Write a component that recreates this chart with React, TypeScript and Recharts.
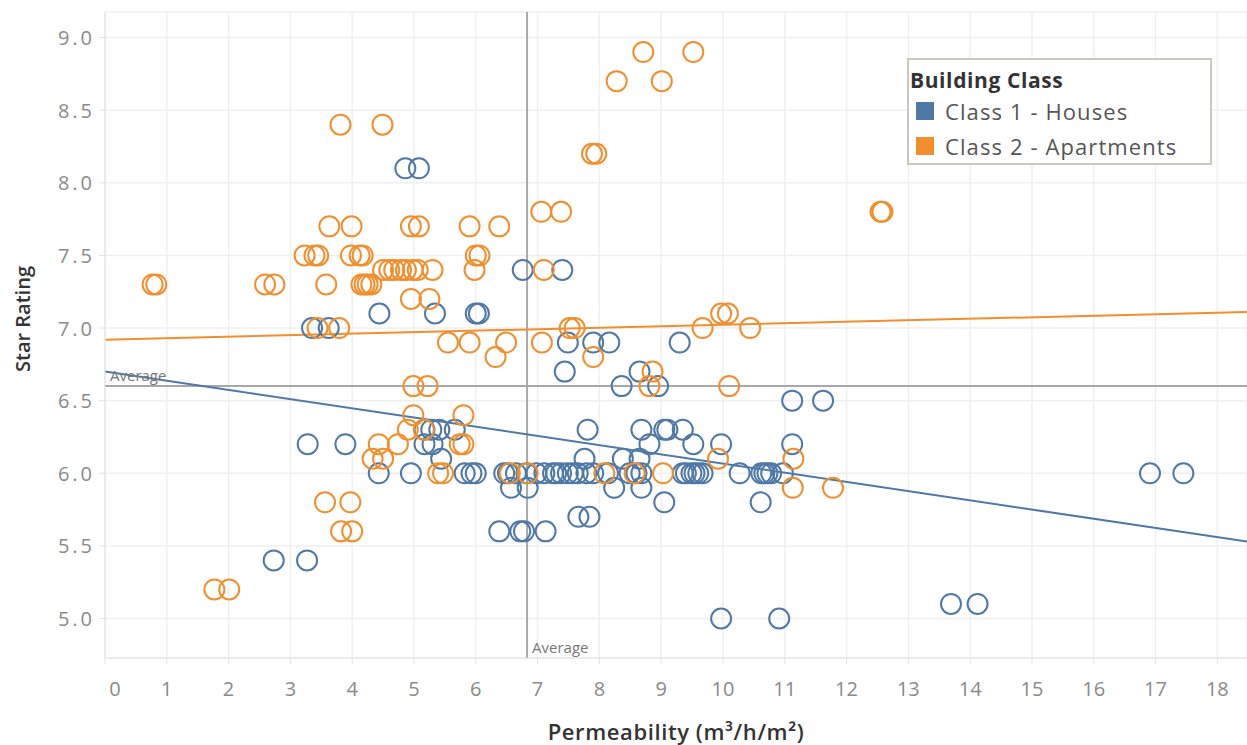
import { ScatterChart, Scatter, XAxis, YAxis, CartesianGrid, ReferenceLine, Legend } from 'recharts';

const BLUE = '#4e79a7';
const ORANGE = '#f28e2b';
const FONT = '"Open Sans", "DejaVu Sans", sans-serif';

// star rating -> permeability values
const housesRows: [number, number[]][] = [
    [8.1, [4.86, 5.08]],
    [7.4, [6.76, 7.4]],
    [7.1, [4.44, 5.34, 6.0, 6.05]],
    [7.0, [3.35, 3.62]],
    [6.9, [7.49, 7.9, 8.16, 9.3]],
    [6.7, [7.44, 8.65]],
    [6.6, [8.36, 8.95]],
    [6.5, [11.12, 11.62]],
    [6.3, [5.17, 5.28, 5.41, 5.66, 7.81, 8.68, 9.05, 9.1, 9.35]],
    [6.2, [3.28, 3.89, 5.17, 5.3, 8.81, 9.52, 9.97, 11.12]],
    [6.1, [5.44, 7.76, 8.38, 8.65]],
    [6.0, [4.43, 4.95, 5.82, 5.93, 6.0, 6.46, 6.52, 6.65, 6.82, 6.98, 7.11, 7.25, 7.3, 7.38, 7.49, 7.57, 7.65, 7.79, 7.9, 8.14, 8.49, 8.6, 8.68, 9.35, 9.4, 9.49, 9.54, 9.6, 9.67, 10.27, 10.62, 10.67, 10.72, 10.78, 10.97, 16.91, 17.45]],
    [5.9, [6.57, 6.84, 8.24, 8.68]],
    [5.8, [9.05, 10.61]],
    [5.7, [7.66, 7.84]],
    [5.6, [6.38, 6.72, 6.78, 7.13]],
    [5.4, [2.73, 3.27]],
    [5.1, [13.69, 14.12]],
    [5.0, [9.97, 10.91]],
];

const apartmentsRows: [number, number[]][] = [
    [8.9, [8.71, 9.52]],
    [8.7, [8.28, 9.01]],
    [8.4, [3.81, 4.49]],
    [8.2, [7.88, 7.95]],
    [7.8, [7.06, 7.38, 12.55, 12.58]],
    [7.7, [3.63, 3.99, 4.95, 5.08, 5.9, 6.38]],
    [7.5, [3.23, 3.39, 3.45, 3.98, 4.12, 4.17, 6.0, 6.06]],
    [7.4, [4.5, 4.6, 4.68, 4.79, 4.87, 4.98, 5.06, 5.3, 5.98, 7.1]],
    [7.3, [0.77, 0.83, 2.59, 2.74, 3.58, 4.15, 4.2, 4.25, 4.31]],
    [7.2, [4.95, 5.25]],
    [7.1, [9.97, 10.08]],
    [7.0, [3.44, 3.79, 7.52, 7.6, 9.67, 10.44]],
    [6.9, [5.55, 5.9, 6.49, 7.07]],
    [6.8, [6.32, 7.9]],
    [6.7, [8.86]],
    [6.6, [4.99, 5.22, 8.81, 10.1]],
    [6.4, [4.99, 5.8]],
    [6.3, [4.9, 5.16]],
    [6.2, [4.43, 4.74, 5.74, 5.8]],
    [6.1, [4.33, 4.5, 9.92, 11.14]],
    [6.0, [5.39, 5.47, 6.55, 6.84, 8.08, 8.57, 9.03]],
    [5.9, [11.13, 11.78]],
    [5.8, [3.56, 3.97]],
    [5.6, [3.82, 4.0]],
    [5.2, [1.77, 2.01]],
];

const houseTrend = [{ x: 0, y: 6.7 }, { x: 18.48, y: 5.53 }];
const apartmentTrend = [{ x: 0, y: 6.92 }, { x: 18.48, y: 7.11 }];
const avgPermeability = 6.83;
const avgRating = 6.6;

const xTicks = [0, 1, 2, 3, 4, 5, 6, 7, 8, 9, 10, 11, 12, 13, 14, 15, 16, 17, 18];
const yTicks = [5, 5.5, 6, 6.5, 7, 7.5, 8, 8.5, 9];

const seriesColors: Record<string, string> = {
    'Class 1 - Houses': BLUE,
    'Class 2 - Apartments': ORANGE,
};

const toPoints = (rows: [number, number[]][]) => rows.flatMap(([y, xs]) => xs.map((x) => ({ x, y })));
const houses = toPoints(housesRows);
const apartments = toPoints(apartmentsRows);

const ring = (color: string) => (props: any) => (
    <circle cx={props.cx} cy={props.cy} r={10} fill="none" stroke={color} strokeWidth={2} />
);

const XTick = (props: any) => {
    const { x, y, payload } = props;
    return (
        <text x={payload.value === 0 ? x + 10 : x} y={y} dy={22} textAnchor="middle" dominantBaseline="central"
            fill="#8a8a8a" fontSize={20} fontFamily={FONT}>
            {payload.value}
        </text>
    );
};

const YTick = (props: any) => {
    const { x, y, payload } = props;
    return (
        <text x={x - 2} y={y} textAnchor="end" dominantBaseline="central" fill="#8a8a8a" fontSize={20}
            letterSpacing={3} fontFamily={FONT}>
            {Number(payload.value).toFixed(1)}
        </text>
    );
};

const XTitle = (props: any) => {
    const { x, y, width } = props.viewBox;
    return (
        <text x={x + width / 2} y={y + 73} textAnchor="middle" dominantBaseline="central" fill="#333"
            fontSize={22} letterSpacing={0.6} fontWeight={600} fontFamily={FONT}>
            Permeability (m³/h/m²)
        </text>
    );
};

const YTitle = (props: any) => {
    const { x, y, height } = props.viewBox;
    const cx = x + 22;
    const cy = y + height / 2 - 16;
    return (
        <text x={cx} y={cy} transform={`rotate(-90 ${cx} ${cy})`} textAnchor="middle" dominantBaseline="central"
            fill="#333" fontSize={20} fontWeight={600} fontFamily={FONT}>
            Star Rating
        </text>
    );
};

const LegendBox = (props: any) => {
    const payload = props.payload || [];
    return (
        <div style={{ width: 305, height: 107, boxSizing: 'border-box', border: '2px solid #cbc8bd', background: '#fff', fontFamily: FONT, position: 'relative' }}>
            <div style={{ position: 'absolute', left: 1, top: 5, lineHeight: '30px', fontSize: 21, letterSpacing: 0.6, fontWeight: 700, color: '#333', whiteSpace: 'nowrap' }}>
                Building Class
            </div>
            {payload.map((entry: any, i: number) => (
                <div key={entry.value} style={{ position: 'absolute', left: 7, top: 33 + i * 35, height: 35, display: 'flex', alignItems: 'center', whiteSpace: 'nowrap' }}>
                    <span style={{ display: 'inline-block', width: 18, height: 18, background: seriesColors[entry.value] || entry.color, marginRight: 11 }} />
                    <span style={{ fontSize: 22, letterSpacing: 1.1, color: '#555' }}>{entry.value}</span>
                </div>
            ))}
        </div>
    );
};

export default function App() {
    return (
        <div style={{ position: 'absolute', left: 0, top: 0, background: '#fff' }}>
            <ScatterChart width={1247} height={745} margin={{ top: 12, right: 0, bottom: 0, left: 0 }}>
                <CartesianGrid stroke="#efefef" strokeWidth={1.5} />
                <XAxis type="number" dataKey="x" domain={[0, 18.48]} ticks={xTicks} interval={0} allowDataOverflow
                    height={87} axisLine={{ stroke: '#e2e2e2' }} tickLine={{ stroke: '#e2e2e2' }} tickSize={6}
                    tick={<XTick />} label={{ value: 'Permeability', content: XTitle }} />
                <YAxis type="number" dataKey="y" domain={[4.728, 9.176]} ticks={yTicks} interval={0} allowDataOverflow
                    width={105} axisLine={{ stroke: '#e2e2e2' }} tickLine={{ stroke: '#e2e2e2' }} tickSize={6}
                    tick={<YTick />} label={{ value: 'Star Rating', content: YTitle }} />
                <ReferenceLine x={avgPermeability} stroke="#a8a8a8" strokeWidth={2}
                    label={{ value: 'Average', position: 'insideBottomLeft', fill: '#777', fontSize: 15, fontFamily: FONT }} />
                <ReferenceLine y={avgRating} stroke="#a8a8a8" strokeWidth={2}
                    label={{ value: 'Average', position: 'insideBottomLeft', fill: '#777', fontSize: 15, fontFamily: FONT }} />
                <ReferenceLine segment={houseTrend} stroke={BLUE} strokeWidth={2} />
                <ReferenceLine segment={apartmentTrend} stroke={ORANGE} strokeWidth={2} />
                <Scatter name="Class 1 - Houses" data={houses} fill={BLUE} shape={ring(BLUE)} isAnimationActive={false} />
                <Scatter name="Class 2 - Apartments" data={apartments} fill={ORANGE} shape={ring(ORANGE)} isAnimationActive={false} />
                <Legend layout="vertical" align="center" verticalAlign="middle"
                    wrapperStyle={{ left: 907, top: 58, width: 305 }} content={LegendBox} />
            </ScatterChart>
        </div>
    );
}
